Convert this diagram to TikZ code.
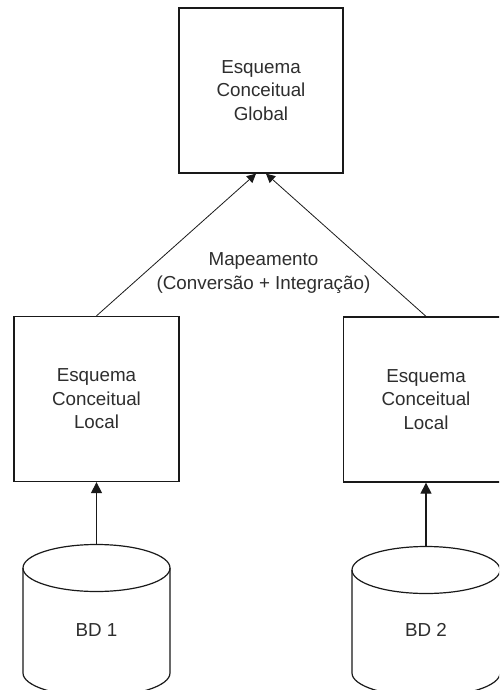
\documentclass[tikz,border=0pt]{standalone}
\usepackage{fontspec}
\setmainfont{Liberation Sans}
\usetikzlibrary{arrows.meta}

\begin{document}
\begin{tikzpicture}[x=1pt,y=-1pt,
  txt/.style={font=\fontsize{18.8}{23.5}\selectfont, text=black!82, align=center},
  schemabox/.style={txt, draw=black!90, line width=1.3pt, fill=white, inner sep=0pt,
                    minimum width=165pt, minimum height=165pt},
  dbline/.style={draw=black!90, line width=1.2pt},
  mapline/.style={draw=black!90, line width=0.8pt, -{Triangle[length=9pt,width=9pt]}},
  feedline/.style={draw=black!90, line width=1.2pt, -{Triangle[length=11pt,width=11pt]}}
]
\useasboundingbox (0,0) rectangle (499,690);
\clip (0,0) rectangle (499,690);

% conceptual schemas
\node[schemabox, minimum width=164pt] (global) at (261,90.5) {Esquema\\Conceitual\\Global};
\node[schemabox] (local1) at (96.5,399) {Esquema\\Conceitual\\Local};
\node[schemabox] (local2) at (426,399.5) {Esquema\\Conceitual\\Local};

% databases drawn as cylinders
\foreach \cx/\rx/\ty/\nm in {96.5/73.5/568/db1, 426/74/570/db2}{
  \pgfmathsetmacro{\kx}{0.5523*\rx}
  \pgfmathsetmacro{\ky}{0.5523*23.5}
  \draw[dbline] (\cx,\ty) ellipse [x radius=\rx pt, y radius=23.5pt];
  \draw[dbline] (\cx-\rx,\ty) -- (\cx-\rx,673)
     .. controls (\cx-\rx,673+\ky) and (\cx-\kx,696.5) .. (\cx,696.5)
     .. controls (\cx+\kx,696.5) and (\cx+\rx,673+\ky) .. (\cx+\rx,673)
     -- (\cx+\rx,\ty);
  \coordinate (\nm top) at (\cx,\ty-23.5);
}
\node[txt] (bd1) at (96.5,630) {BD 1};
\node[txt] (bd2) at (426,630) {BD 2};

% data sources feed the local schemas
\draw[feedline] (db1top) -- (local1.south);
\draw[feedline] (db2top) -- (local2.south);

% mapping into the global schema
\draw[mapline] (local1.north) -- ([xshift=-5pt]global.south);
\draw[mapline] (local2.north) -- ([xshift=5pt]global.south);
\node[txt] (mapping) at (263.5,273) {Mapeamento\\(Conversão + Integração)};
\end{tikzpicture}
\end{document}
